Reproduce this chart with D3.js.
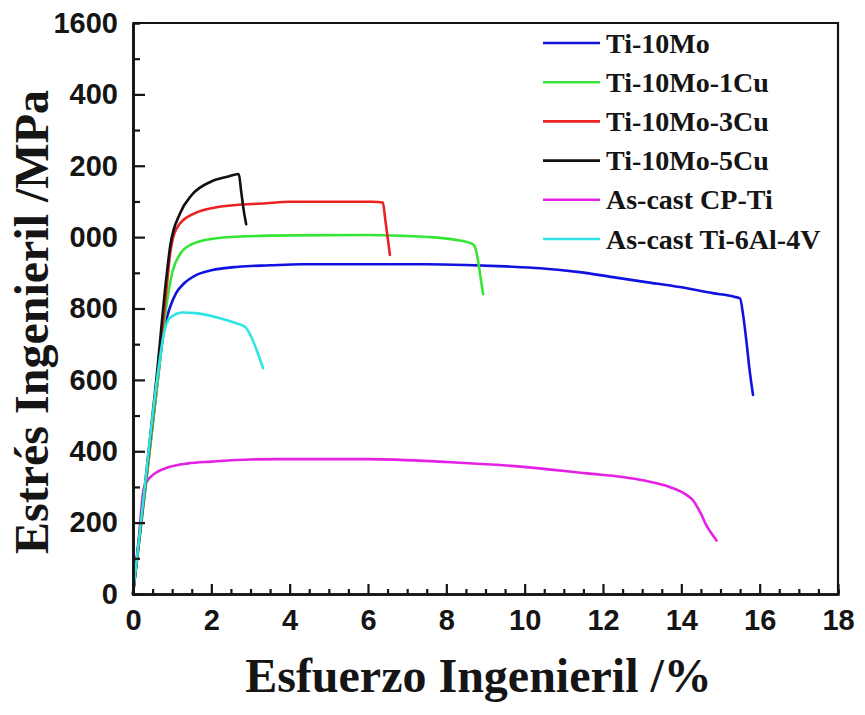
<!DOCTYPE html>
<html>
<head>
<meta charset="utf-8">
<script src="https://cdn.jsdelivr.net/npm/d3@7"></script>
<style>
  html, body { margin: 0; padding: 0; background: #fff; }
  svg { display: block; }
</style>
</head>
<body>
<svg id="chart" width="865" height="715"></svg>
<script>
// Engineering stress-strain curves: [strain %, stress MPa]
const ti10Mo = [[0,0],[0.3,285],[0.6,570],[0.8,745],[0.95,805],[1.1,843],[1.3,870],[1.6,893],[2.0,907],[2.7,917],[3.5,921],[4.3,924],[6.0,924],[7.5,924],[8.5,922],[9.5,918],[10.4,913],[11.4,902],[12.25,888],[13.1,874],[13.96,860],[14.8,843],[15.35,833],[15.5,828],[15.58,780],[15.66,710],[15.74,630],[15.83,558]];
const ti10Mo1Cu = [[0,0],[0.3,280],[0.6,565],[0.85,805],[1.0,900],[1.2,952],[1.5,980],[2.0,995],[2.8,1002],[4.0,1005],[6.0,1006],[7.0,1003],[7.6,1000],[8.2,993],[8.6,984],[8.72,975],[8.8,940],[8.87,890],[8.94,840]];
const ti10Mo3Cu = [[0,0],[0.3,290],[0.6,585],[0.85,850],[0.95,955],[1.1,1022],[1.5,1063],[2.2,1085],[3.4,1095],[4.0,1099],[6.1,1099],[6.38,1097],[6.44,1050],[6.5,1000],[6.56,950]];
const ti10Mo5Cu = [[0,0],[0.3,300],[0.6,605],[0.85,885],[0.95,975],[1.2,1066],[1.5,1118],[2.0,1156],[2.4,1169],[2.7,1177],[2.76,1130],[2.82,1080],[2.89,1036]];
const cpTi = [[0,0],[0.15,160],[0.28,298],[0.45,328],[0.62,342],[0.9,355],[1.4,366],[2.0,371],[3.0,377],[4.0,378],[6.0,378],[8.0,370],[9.9,357],[11.6,338],[12.5,328],[13.05,318],[13.7,300],[14.1,280],[14.3,262],[14.5,225],[14.65,190],[14.8,165],[14.9,150]];
const ti6Al4V = [[0,0],[0.3,300],[0.6,590],[0.8,735],[0.95,775],[1.28,789],[1.6,787],[2.22,773],[2.6,760],[2.86,749],[3.0,725],[3.16,683],[3.25,655],[3.32,633]];

const seriesNames = ["Ti-10Mo", "Ti-10Mo-1Cu", "Ti-10Mo-3Cu", "Ti-10Mo-5Cu", "As-cast CP-Ti", "As-cast Ti-6Al-4V"];
const seriesData = [ti10Mo, ti10Mo1Cu, ti10Mo3Cu, ti10Mo5Cu, cpTi, ti6Al4V];
const seriesColors = ["#1212e0", "#36e636", "#ec2222", "#111111", "#e420e4", "#2ee4e4"];
// draw order: wide curves first, early-failing alloys on top
const drawOrder = [4, 0, 1, 2, 3, 5];

const xTicks = [0, 2, 4, 6, 8, 10, 12, 14, 16, 18];
const yTicks = [0, 200, 400, 600, 800, 1000, 1200, 1400, 1600];
const yTickLabels = ["0", "200", "400", "600", "800", "000", "200", "400", "1600"];

const xTitle = "Esfuerzo Ingenieril /%";
const yTitle = "Estrés Ingenieril /MPa";

const margin = { left: 133, top: 23, right: 27, bottom: 121 };
const W = 865, H = 715;
const plotW = W - margin.left - margin.right;
const plotH = H - margin.top - margin.bottom;

const svg = d3.select("#chart");
const x = d3.scaleLinear().domain([0, 18]).range([margin.left, margin.left + plotW]);
const y = d3.scaleLinear().domain([0, 1600]).range([margin.top + plotH, margin.top]);

const ink = "#151515";
const tickFont = "'Liberation Sans', Arial, sans-serif";
const serif = "'Liberation Serif', 'Times New Roman', serif";

// curves
const line = d3.line().x(d => x(d[0])).y(d => y(d[1])).curve(d3.curveMonotoneX);
const curves = svg.append("g");
drawOrder.forEach(i => {
  curves.append("path")
    .datum(seriesData[i])
    .attr("d", line)
    .attr("fill", "none")
    .attr("stroke", seriesColors[i])
    .attr("stroke-width", 2.6)
    .attr("stroke-linejoin", "round")
    .attr("stroke-linecap", "round");
});

// frame (top and right edges)
svg.append("path")
  .attr("d", `M${x(0)},${y(1600)}H${x(18)}V${y(0)}`)
  .attr("fill", "none").attr("stroke", ink).attr("stroke-width", 2.2);

// x axis, ticks pointing into the plot
const xAxis = d3.axisBottom(x).tickValues(xTicks).tickSizeInner(-10).tickSizeOuter(0).tickPadding(15).tickFormat(d3.format("d"));
const xMinor = d3.axisBottom(x).tickValues(d3.range(0, 18.01, 0.5).filter(v => v % 2 !== 0)).tickSize(-5).tickFormat("");
const gxm = svg.append("g").attr("transform", `translate(0,${y(0)})`).call(xMinor);
const gx = svg.append("g").attr("transform", `translate(0,${y(0)})`).call(xAxis);

// y axis
const yAxis = d3.axisLeft(y).tickValues(yTicks).tickSizeInner(-12).tickSizeOuter(0).tickPadding(15)
  .tickFormat((d, i) => yTickLabels[i]);
const yMinor = d3.axisLeft(y).tickValues(d3.range(100, 1600, 200)).tickSize(-7).tickFormat("");
const gym = svg.append("g").attr("transform", `translate(${x(0)},0)`).call(yMinor);
const gy = svg.append("g").attr("transform", `translate(${x(0)},0)`).call(yAxis);

[gx, gy, gxm, gym].forEach(g => {
  g.select(".domain").attr("stroke", ink).attr("stroke-width", 2.6);
  g.selectAll(".tick line").attr("stroke", ink).attr("stroke-width", 2.2);
  g.selectAll(".tick text")
    .attr("fill", ink)
    .style("font-family", tickFont)
    .style("font-weight", "bold")
    .style("font-size", "29px");
});
gy.selectAll(".tick").filter(d => d === 1600).select("line").remove();
gx.selectAll(".tick text").attr("dy", "0.71em");

// axis titles
svg.append("text")
  .attr("x", (x(0) + x(18)) / 2 - 7)
  .attr("y", 692)
  .attr("text-anchor", "middle")
  .attr("fill", ink)
  .style("font-family", serif)
  .style("font-weight", "bold")
  .style("font-size", "48px")
  .text(xTitle);

svg.append("text")
  .attr("transform", `translate(48,${322}) rotate(-90)`)
  .attr("text-anchor", "middle")
  .attr("fill", ink)
  .style("font-family", serif)
  .style("font-weight", "bold")
  .style("font-size", "48px")
  .text(yTitle);

// legend
const legend = svg.append("g");
const rowY = d3.scalePoint().domain(seriesNames).range([43, 239]);
seriesNames.forEach((name, i) => {
  const cy = rowY(name);
  legend.append("line")
    .attr("x1", 543).attr("x2", 600).attr("y1", cy).attr("y2", cy)
    .attr("stroke", seriesColors[i]).attr("stroke-width", 2.6);
  legend.append("text")
    .attr("x", 606).attr("y", cy).attr("dy", "0.34em")
    .attr("fill", ink)
    .style("font-family", serif)
    .style("font-weight", "bold")
    .style("font-size", "28px")
    .text(name);
});
</script>
</body>
</html>
